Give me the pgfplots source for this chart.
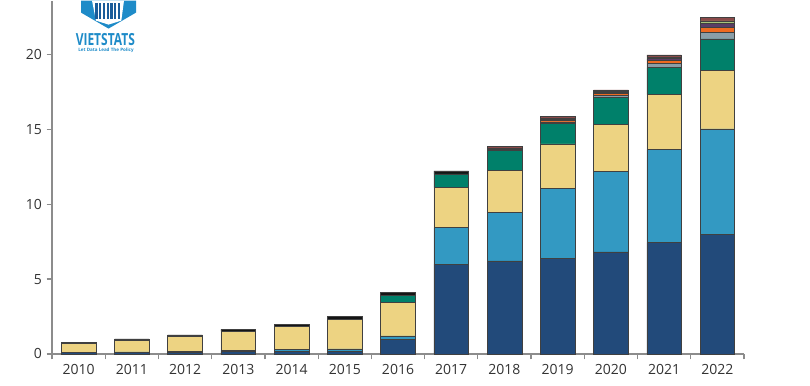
\documentclass[border=0pt]{standalone}
\usepackage{pgfplots}
\pgfplotsset{compat=1.18}
\usepackage{pgfplotstable}
\usepackage{fontspec}
\setmainfont{Open Sans}
\definecolor{cNavy}{HTML}{224A7A}
\definecolor{cBlue}{HTML}{3399C2}
\definecolor{cYellow}{HTML}{EDD382}
\definecolor{cTeal}{HTML}{00806A}
\definecolor{cGray}{HTML}{8A9EA8}
\definecolor{cOrange}{HTML}{EE6A21}
\definecolor{cPurple}{HTML}{5B3D66}
\definecolor{cOlive}{HTML}{A8C47A}
\definecolor{cBrown}{HTML}{8B4A4A}
\definecolor{cBlack}{HTML}{151515}
\definecolor{cLogo}{HTML}{1E8BC8}
\definecolor{cLogoD}{HTML}{1A5C9A}
\definecolor{cAxis}{HTML}{8C8C8C}
\pgfplotstableread{
x navy blue yellow teal gray orange purple olive brown black
0  0.08 0.02 0.60 0    0    0    0    0    0    0.08
1  0.10 0.03 0.79 0    0    0    0    0    0    0.08
2  0.12 0.05 1.00 0    0    0    0    0    0    0.10
3  0.15 0.08 1.29 0    0    0    0    0    0    0.12
4  0.17 0.12 1.56 0    0    0    0    0    0    0.14
5  0.18 0.15 1.97 0    0    0    0    0    0    0.20
6  0.96 0.25 2.25 0.47 0    0    0    0    0    0.19
7  6.00 2.43 2.67 0.92 0    0    0    0    0    0.21
8  6.22 3.25 2.78 1.35 0.05 0.03 0.05 0.02 0.10 0
9  6.39 4.65 2.99 1.35 0.12 0.12 0.05 0.05 0.14 0
10 6.82 5.35 3.18 1.76 0.15 0.15 0.06 0.07 0.10 0
11 7.43 6.22 3.67 1.81 0.30 0.20 0.10 0.10 0.14 0
12 7.96 7.07 3.89 2.12 0.46 0.30 0.28 0.17 0.22 0
}\data
\begin{document}
\begin{tikzpicture}
\begin{axis}[
  scale only axis,
  width=519pt, height=265pt,
  xmin=-0.5, xmax=12.5,
  ymin=0, ymax=23.6,
  ybar stacked,
  bar width=26pt,
  axis x line*=bottom, axis y line*=left,
  axis line style={-, draw=cAxis, line width=0.9pt},
  tick align=outside,
  tick style={draw=cAxis, line width=0.9pt},
  major tick length=4pt,
  minor tick length=4pt,
  xtick={0,...,12},
  xticklabels={2010,2011,2012,2013,2014,2015,2016,2017,2018,2019,2020,2021,2022},
  major x tick style={draw=none},
  minor xtick={-0.5,0.5,...,12.5},
  ytick={0,5,10,15,20},
  /pgf/number format/assume math mode=true,
  tick label style={font=\fontsize{10.5}{12}\selectfont, text=black!80},
  every axis plot/.append style={draw=black!75, line width=0.4pt},
  clip=false,
]
\addplot[fill=cNavy] table[x=x,y=navy]{\data};
\addplot[fill=cBlue] table[x=x,y=blue]{\data};
\addplot[fill=cYellow] table[x=x,y=yellow]{\data};
\addplot[fill=cTeal] table[x=x,y=teal]{\data};
\addplot[fill=cGray] table[x=x,y=gray]{\data};
\addplot[fill=cOrange] table[x=x,y=orange]{\data};
\addplot[fill=cPurple] table[x=x,y=purple]{\data};
\addplot[fill=cOlive] table[x=x,y=olive]{\data};
\addplot[fill=cBrown] table[x=x,y=brown]{\data};
\addplot[fill=cBlack] table[x=x,y=black]{\data};
\end{axis}
% logo watermark
\fill[cLogo] (21.75pt,265pt) -- (21.75pt,256pt) -- (42.4pt,244pt) -- (63pt,256pt) -- (63pt,265pt) -- cycle;
\fill[white] (30pt,265pt) -- (54pt,265pt) -- (52pt,250pt) -- (42.4pt,247pt) -- (33pt,250pt) -- cycle;
\foreach \i in {0,...,6}{\fill[cLogoD] (32.5pt+\i*2.8pt,263.5pt) rectangle (34.2pt+\i*2.8pt,251.5pt);}
\node[text=cLogo, font=\fontsize{12.5}{13}\bfseries, xscale=0.72] at (40pt,236pt) {VIETSTATS};
\node[text=cLogo, font=\fontsize{3.4}{4}\bfseries] at (40.5pt,227.5pt) {Let Data Lead The Policy};
\path (-39pt,-23.75pt) rectangle (568.5pt,265pt);
\end{tikzpicture}
\end{document}
